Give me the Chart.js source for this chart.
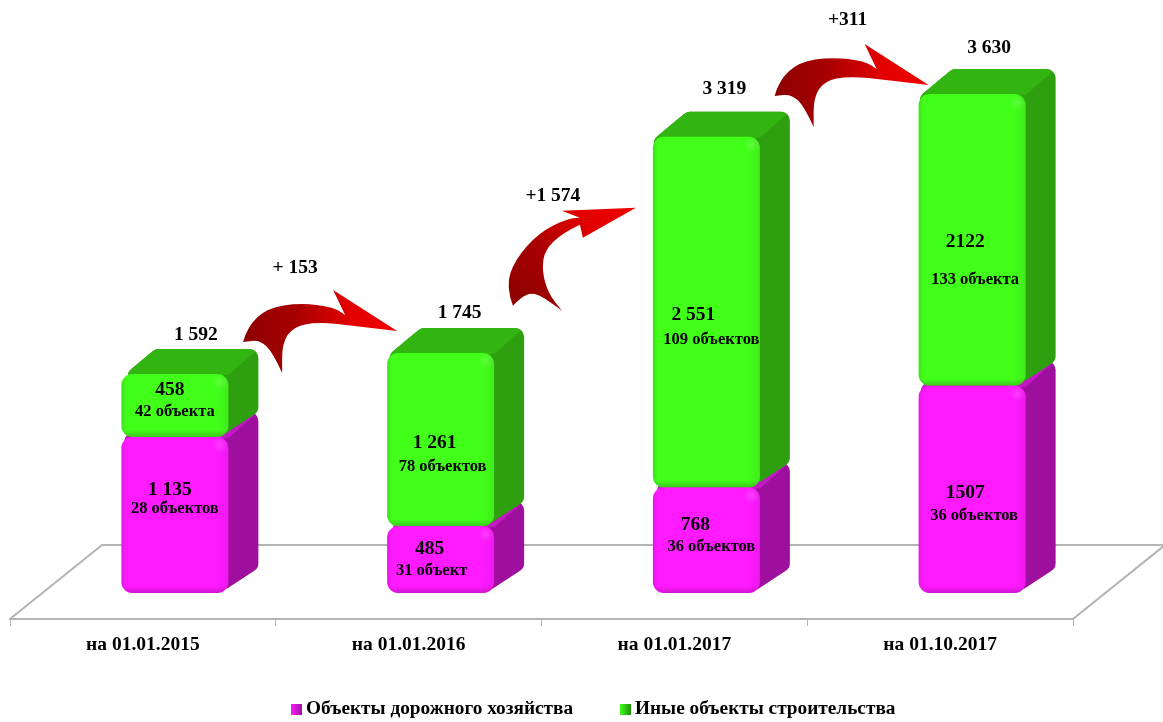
<!DOCTYPE html>
<html>
<head>
<meta charset="utf-8">
<script src="https://cdn.jsdelivr.net/npm/chart.js@4"></script>
<style>
  html, body { margin: 0; background: #fff; }
  canvas { display: block; }
</style>
</head>
<body>
<canvas id="chart" width="1163" height="722"></canvas>
<script>
const categories = ["на 01.01.2015", "на 01.01.2016", "на 01.01.2017", "на 01.10.2017"];
const roadValues = [1135, 485, 768, 1507];
const otherValues = [458, 1261, 2551, 2122];
const roadLabels = ["1 135", "485", "768", "1507"];
const otherLabels = ["458", "1 261", "2 551", "2122"];
const roadCounts = ["28 объектов", "31 объект", "36 объектов", "36 объектов"];
const otherCounts = ["42 объекта", "78 объектов", "109 объектов", "133 объекта"];
const totalLabels = ["1 592", "1 745", "3 319", "3 630"];
const deltaLabels = ["+ 153", "+1 574", "+311"];

const SERIF = '"Liberation Serif", serif';
const SHIFT = 32;           // bars stand on the floor, right of the category centre
const DEPTH_X = 30, DEPTH_Y = 25;
const FLOOR_X = 92, FLOOR_Y = 74;
const RADIUS = 11;
const FLOOR_COLOR = "#b4b4b4";
const LEGEND_X = [291, 620], LEGEND_Y = 709;
const LEGEND_DARK = ["#a012a0", "#1f8f0c"];

// label offsets from the front face centre, [dx, dy] per column
const roadLabelPos = [[-5, -26], [-11, -12], [-11, -16], [-7, 3]];
const roadCountPos = [[0, -7], [-9, 10], [5, 6], [2, 25]];
const otherLabelPos = [[-5, -17], [-6, 2], [-13, 2], [-7, 1]];
const otherCountPos = [[0, 5], [2, 26], [5, 27], [3, 39]];
const totalPos = [[21, -40], [19, -41], [18, -49], [17, -47]];

const arrowWide = {
  outer: [[-154, 11], [-150, -4], [-130, -23], [-97, -28], [-64, -24], [-52, -16]],
  head: [[-64, -41], [0, 0], [-60, -7]],
  inner: [[-60, -7], [-80, -9], [-104, -4], [-115, 12], [-115, 42]],
  back: [[-115, 42], [-124, 22], [-137, 9], [-154, 11]],
};
const arrowSteep = {
  outer: [[-123, 98], [-130, 79], [-121, 52], [-97, 25], [-69, 11], [-56, 10]],
  head: [[-74, 3], [0, 0], [-53, 30], [-56, 17]],
  inner: [[-56, 17], [-73, 25], [-91, 42], [-94, 62], [-88, 85], [-74, 103]],
  back: [[-74, 103], [-91, 90], [-104, 85], [-114, 89], [-123, 98]],
};
// arrow tip relative to the target bar's top left corner, delta text relative to the tip
const arrows = [
  { shape: arrowWide, tip: [10, -22], text: [-102, -64] },
  { shape: arrowSteep, tip: [-17, 71], text: [-83, -13] },
  { shape: arrowWide, tip: [10, -9], text: [-81, -66] },
];

function roundPoly(ctx, pts, r) {
  const n = pts.length;
  const mx = (pts[0][0] + pts[n - 1][0]) / 2, my = (pts[0][1] + pts[n - 1][1]) / 2;
  ctx.beginPath();
  ctx.moveTo(mx, my);
  for (let i = 0; i < n; i++) {
    const next = pts[(i + 1) % n];
    ctx.arcTo(pts[i][0], pts[i][1], next[0], next[1], r);
  }
  ctx.closePath();
}

// draws top and side of one box behind its front face
function drawDepth(ctx, left, right, top, bottom, topColor, sideColor) {
  const d = DEPTH_X, h = DEPTH_Y;
  ctx.save();
  roundPoly(ctx, [[left, top + 3], [left + 34, top - h], [right + d, top - h], [right + d, bottom - h], [right - 8, bottom]], 9);
  ctx.clip();
  ctx.fillStyle = sideColor;
  ctx.fillRect(left, top - h - 2, right + d - left + 2, bottom - top + h + 4);
  ctx.fillStyle = topColor;
  ctx.beginPath();
  ctx.moveTo(left - 2, top + 6);
  ctx.lineTo(left + 34, top - h - 2);
  ctx.lineTo(right + d + 2, top - h - 2);
  ctx.lineTo(right, top + 1);
  ctx.closePath();
  ctx.fill();
  ctx.restore();
}

// soft edge shading on a front face
function drawBevel(ctx, left, right, top, bottom) {
  ctx.save();
  ctx.beginPath();
  ctx.roundRect(left, top, right - left, bottom - top, RADIUS);
  ctx.clip();
  const low = ctx.createLinearGradient(0, bottom - 7, 0, bottom);
  low.addColorStop(0, "rgba(70,0,70,0)");
  low.addColorStop(1, "rgba(40,0,40,0.22)");
  ctx.fillStyle = low;
  ctx.fillRect(left, bottom - 7, right - left, 7);
  const edge = ctx.createLinearGradient(left, 0, left + 5, 0);
  edge.addColorStop(0, "rgba(40,0,40,0.12)");
  edge.addColorStop(1, "rgba(40,0,40,0)");
  ctx.fillStyle = edge;
  ctx.fillRect(left, top, 5, bottom - top);
  const band = ctx.createLinearGradient(right - 12, 0, right, 0);
  band.addColorStop(0, "rgba(60,0,60,0)");
  band.addColorStop(1, "rgba(60,0,60,0.08)");
  ctx.fillStyle = band;
  ctx.fillRect(right - 12, top, 12, bottom - top);
  const spot = ctx.createRadialGradient(right - 8, top + 8, 0, right - 8, top + 8, 8);
  spot.addColorStop(0, "rgba(255,255,255,0.16)");
  spot.addColorStop(1, "rgba(255,255,255,0)");
  ctx.fillStyle = spot;
  ctx.fillRect(right - 16, top, 16, 16);
  ctx.restore();
}

function smooth(ctx, pts, ox, oy) {
  for (let i = 1; i < pts.length - 1; i++) {
    const mx = (pts[i][0] + pts[i + 1][0]) / 2, my = (pts[i][1] + pts[i + 1][1]) / 2;
    ctx.quadraticCurveTo(ox + pts[i][0], oy + pts[i][1], ox + mx, oy + my);
  }
  const last = pts[pts.length - 1];
  ctx.lineTo(ox + last[0], oy + last[1]);
}

function drawArrow(ctx, shape, x, y) {
  const start = shape.outer[0];
  const grad = ctx.createLinearGradient(x + start[0], y + start[1], x, y);
  grad.addColorStop(0, "#8c0000");
  grad.addColorStop(0.35, "#a80000");
  grad.addColorStop(0.7, "#e20000");
  grad.addColorStop(1, "#f00000");
  ctx.fillStyle = grad;
  ctx.beginPath();
  ctx.moveTo(x + start[0], y + start[1]);
  smooth(ctx, shape.outer, x, y);
  shape.head.forEach(p => ctx.lineTo(x + p[0], y + p[1]));
  smooth(ctx, shape.inner, x, y);
  smooth(ctx, shape.back, x, y);
  ctx.closePath();
  ctx.fill();
}

function label(ctx, text, x, y, size) {
  ctx.font = "bold " + size + "px " + SERIF;
  ctx.fillStyle = "#000";
  ctx.textAlign = "center";
  ctx.textBaseline = "middle";
  ctx.fillText(text, x, y + 1);
}

function drawLegend(chart) {
  const ctx = chart.ctx;
  chart.data.datasets.forEach((ds, i) => {
    const x = LEGEND_X[i];
    const grad = ctx.createLinearGradient(x, 0, x + 11, 0);
    grad.addColorStop(0, ds.backgroundColor);
    grad.addColorStop(1, LEGEND_DARK[i]);
    ctx.fillStyle = grad;
    ctx.fillRect(x, LEGEND_Y - 5, 11, 11);
    ctx.font = "bold 19.3px " + SERIF;
    ctx.fillStyle = "#000";
    ctx.textAlign = "left";
    ctx.textBaseline = "middle";
    ctx.fillText(ds.label, x + 15, LEGEND_Y);
  });
}

const boxes3d = {
  id: "boxes3d",
  afterDatasetsUpdate(chart) {
    // stacked bars only round the top of a stack by default
    chart.data.datasets.forEach((ds, i) => {
      chart.getDatasetMeta(i).data.forEach(el => { el.enableBorderRadius = true; });
    });
  },
  beforeDatasetsDraw(chart) {
    const ctx = chart.ctx, area = chart.chartArea;
    ctx.save();
    ctx.strokeStyle = FLOOR_COLOR;
    ctx.lineWidth = 2;
    ctx.beginPath();
    ctx.moveTo(area.left, area.bottom);
    ctx.lineTo(area.left + FLOOR_X, area.bottom - FLOOR_Y);
    ctx.lineTo(area.right + FLOOR_X, area.bottom - FLOOR_Y);
    ctx.lineTo(area.right, area.bottom);
    ctx.stroke();

    const road = chart.getDatasetMeta(0).data, other = chart.getDatasetMeta(1).data;
    road.forEach((el, i) => {
      const left = el.x + SHIFT - el.width / 2, right = el.x + SHIFT + el.width / 2;
      drawDepth(ctx, left, right, el.y, el.base, "#c418c4", "#9e0f9e");
      const up = other[i];
      drawDepth(ctx, left, right, up.y, up.base, "#33b511", "#2ea00f");
    });
    ctx.restore();
    // front faces come from the bar elements, moved onto the floor
    ctx.save();
    ctx.translate(SHIFT, 0);
  },
  afterDatasetsDraw(chart) {
    const ctx = chart.ctx;
    ctx.restore();
    ctx.save();
    const road = chart.getDatasetMeta(0).data, other = chart.getDatasetMeta(1).data;
    road.forEach((el, i) => {
      const x = el.x + SHIFT, y = (el.y + el.base) / 2;
      const up = other[i], yUp = (up.y + up.base) / 2;
      drawBevel(ctx, x - el.width / 2, x + el.width / 2, el.y, el.base);
      drawBevel(ctx, x - up.width / 2, x + up.width / 2, up.y, up.base);
      label(ctx, roadLabels[i], x + roadLabelPos[i][0], y + roadLabelPos[i][1], 19.5);
      label(ctx, roadCounts[i], x + roadCountPos[i][0], y + roadCountPos[i][1], 16.5);
      label(ctx, otherLabels[i], x + otherLabelPos[i][0], yUp + otherLabelPos[i][1], 19.5);
      label(ctx, otherCounts[i], x + otherCountPos[i][0], yUp + otherCountPos[i][1], 16.5);
      label(ctx, totalLabels[i], x + totalPos[i][0], up.y + totalPos[i][1], 19.5);
    });
    arrows.forEach((a, i) => {
      const target = other[i + 1];
      const tx = target.x + SHIFT - target.width / 2 + a.tip[0], ty = target.y + a.tip[1];
      drawArrow(ctx, a.shape, tx, ty);
      label(ctx, deltaLabels[i], tx + a.text[0], ty + a.text[1], 19.5);
    });
    drawLegend(chart);
    ctx.restore();
  },
};

new Chart(document.getElementById("chart"), {
  type: "bar",
  data: {
    labels: categories,
    datasets: [
      {
        label: "Объекты дорожного хозяйства",
        data: roadValues,
        backgroundColor: "#ff1aff",
        borderWidth: 0,
        borderRadius: RADIUS,
        borderSkipped: false,
        clip: false,
      },
      {
        label: "Иные объекты строительства",
        data: otherValues,
        backgroundColor: "#41ff19",
        borderWidth: 0,
        borderRadius: RADIUS,
        borderSkipped: false,
        clip: false,
      },
    ],
  },
  options: {
    responsive: false,
    animation: false,
    layout: { padding: { left: 10, right: 90, top: 0, bottom: 0 } },
    datasets: { bar: { categoryPercentage: 1, barPercentage: 0.4026 } },
    plugins: {
      tooltip: { enabled: false },
      legend: { display: false },
    },
    scales: {
      x: {
        stacked: true,
        afterFit(scale) { scale.height = 103; },
        border: { color: FLOOR_COLOR, width: 2 },
        grid: { drawOnChartArea: false, color: FLOOR_COLOR, tickLength: 7, tickWidth: 1 },
        ticks: {
          color: "#000",
          padding: 7,
          maxRotation: 0,
          autoSkip: false,
          font: { family: SERIF, size: 19.5, weight: "bold" },
        },
      },
      y: { stacked: true, display: false, min: -189, max: 4313 },
    },
  },
  plugins: [boxes3d],
});
</script>
</body>
</html>
